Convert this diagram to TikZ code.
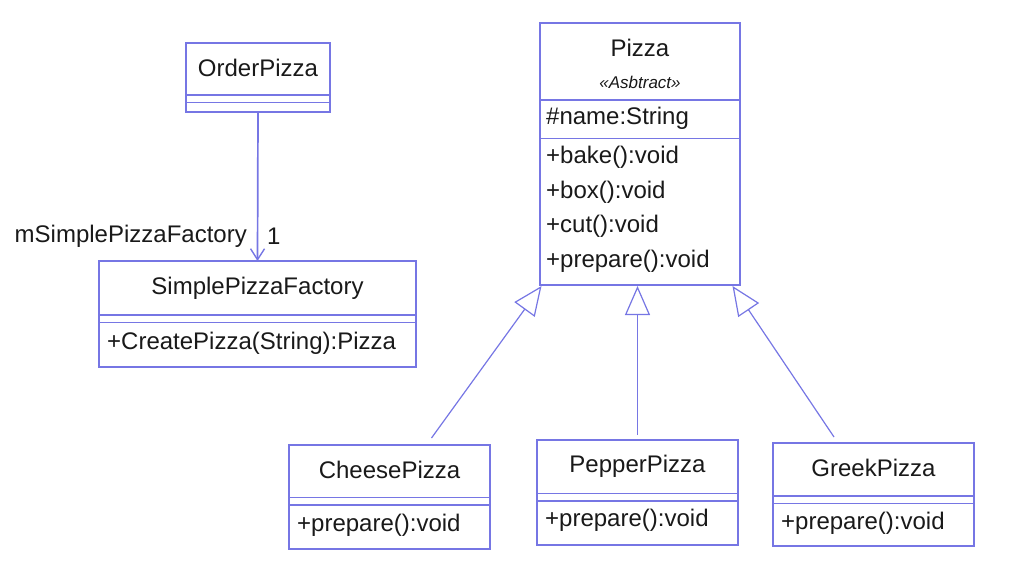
\documentclass[tikz,border=0pt]{standalone}
\usepackage{fontspec}
\setmainfont{Liberation Sans}
\usetikzlibrary{arrows.meta}
\definecolor{uml}{RGB}{118,118,228}
\definecolor{txt}{RGB}{25,25,25}
\begin{document}
\begin{tikzpicture}[x=1pt,y=-1pt,
  cls/.style={draw=uml, line width=1.8pt, anchor=north west, inner sep=0pt, outer sep=0pt},
  lbl/.style={font=\fontsize{24}{28}\selectfont, text=txt, inner sep=0pt},
  stereo/.style={font=\fontsize{17}{20}\selectfont\itshape, text=txt, inner sep=0pt},
  sepline/.style={draw=uml, line width=1.8pt},
  gen/.style={draw=uml, line width=1.2pt, -{Triangle[open, length=29pt, width=25pt, fill=white, line width=1.2pt]}},
  assoc/.style={draw=uml, line width=1.7pt, -{Straight Barb[length=11pt, width=14pt, line width=1.4pt]}}]
\useasboundingbox (0,0) rectangle (1010,576);

% OrderPizza
\node[cls, minimum width=144pt, minimum height=69pt] (order) at (186,43) {};
\draw[sepline] (186,95) -- (330,95);
\draw[sepline] (186,102.5) -- (330,102.5);
\node[lbl] (orderN) at (258,68) {OrderPizza};

% SimplePizzaFactory
\node[cls, minimum width=317pt, minimum height=106pt] (spf) at (99,261) {};
\draw[sepline] (99,315) -- (416,315);
\draw[sepline] (99,322.5) -- (416,322.5);
\node[lbl] (spfN) at (257.5,288) {SimplePizzaFactory};
\node[lbl, anchor=west] (spfM) at (107,343) {+CreatePizza(String):Pizza};

% association
\draw[assoc] (order.south) -- (spf.north);
\node[lbl, anchor=east] (role) at (247,236) {mSimplePizzaFactory};
\node[lbl, anchor=west] (mult) at (267,236) {1};

% Pizza
\node[cls, minimum width=200pt, minimum height=262pt] (pizza) at (540,23) {};
\draw[sepline] (540,100) -- (740,100);
\draw[sepline] (540,138.5) -- (740,138.5);
\node[lbl] (pizzaN) at (640,48) {Pizza};
\node[stereo] (pizzaS) at (640,82) {«Asbtract»};
\node[lbl, anchor=west] (pizzaA) at (546,118) {\#name:String};
\node[lbl, anchor=west] (pizzaM1) at (546,157) {+bake():void};
\node[lbl, anchor=west] (pizzaM2) at (546,192) {+box():void};
\node[lbl, anchor=west] (pizzaM3) at (546,226.5) {+cut():void};
\node[lbl, anchor=west] (pizzaM4) at (546,261) {+prepare():void};

% CheesePizza
\node[cls, minimum width=201pt, minimum height=104pt] (cheese) at (289,445) {};
\draw[sepline] (289,497.5) -- (490,497.5);
\draw[sepline] (289,505) -- (490,505);
\node[lbl] (cheeseN) at (389.5,470) {CheesePizza};
\node[lbl, anchor=west] (cheeseM) at (297,525) {+prepare():void};

% PepperPizza
\node[cls, minimum width=201pt, minimum height=105pt] (pepper) at (537,440) {};
\draw[sepline] (537,493.5) -- (738,493.5);
\draw[sepline] (537,501) -- (738,501);
\node[lbl] (pepperN) at (637.5,466) {PepperPizza};
\node[lbl, anchor=west] (pepperM) at (545,520) {+prepare():void};

% GreekPizza
\node[cls, minimum width=201pt, minimum height=103pt] (greek) at (773,443) {};
\draw[sepline] (773,496) -- (974,496);
\draw[sepline] (773,503.5) -- (974,503.5);
\node[lbl] (greekN) at (873.5,468) {GreekPizza};
\node[lbl, anchor=west] (greekM) at (781,523) {+prepare():void};

% generalizations
\coordinate (cheeseEnd) at (431.5,438);
\coordinate (pepperEnd) at (637.5,435);
\coordinate (greekEnd) at (834,437);
\coordinate (tipL) at (541.5,286);
\coordinate (tipC) at (637.5,286);
\coordinate (tipR) at (732.5,286);
\draw[gen] (cheeseEnd) -- (tipL);
\draw[gen] (pepperEnd) -- (tipC);
\draw[gen] (greekEnd) -- (tipR);
\end{tikzpicture}
\end{document}
